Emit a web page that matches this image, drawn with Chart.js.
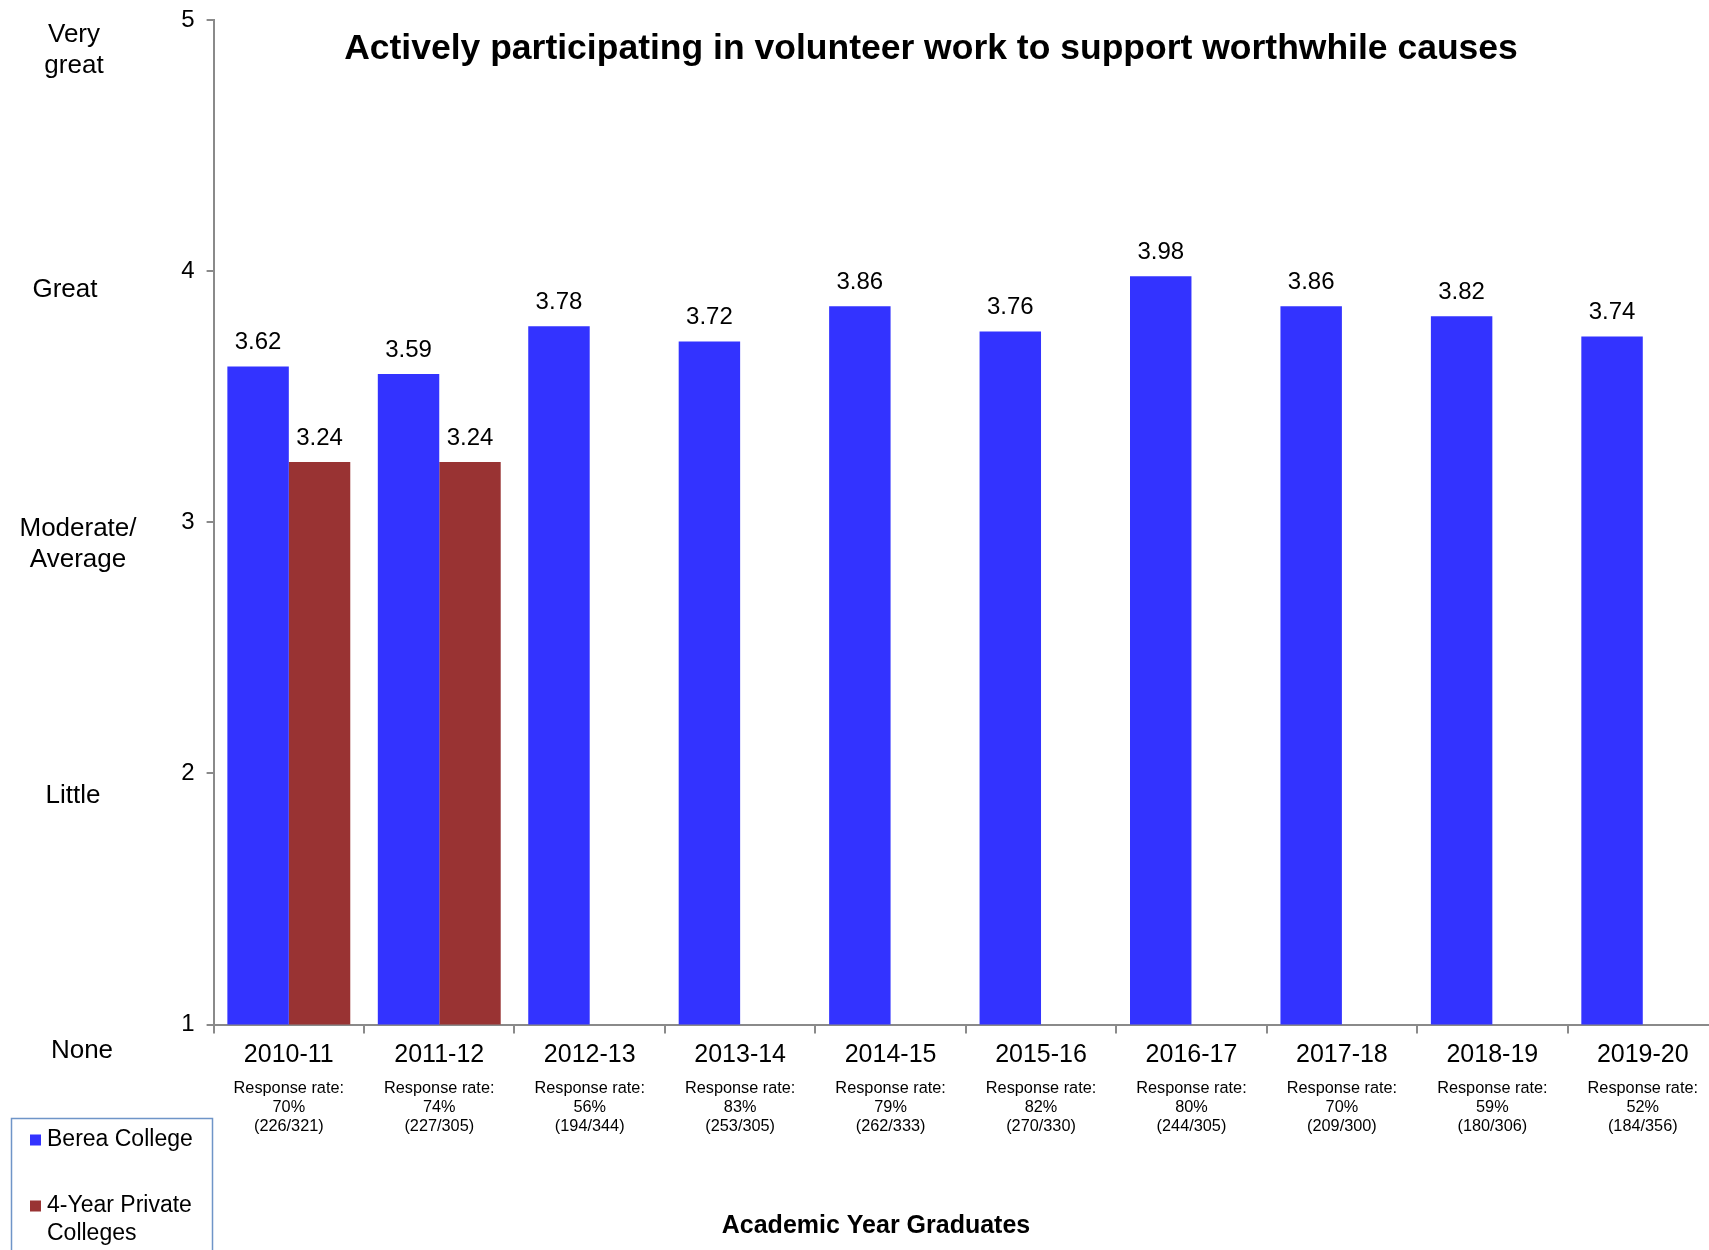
<!DOCTYPE html>
<html>
<head>
<meta charset="utf-8">
<script src="https://cdn.jsdelivr.net/npm/chart.js@4"></script>
<style>
html, body { margin: 0; padding: 0; background: #fff; overflow: hidden; }
#wrap { width: 1709px; height: 1250px; overflow: hidden; }
#myChart { display: block; }
</style>
</head>
<body>
<div id="wrap"><canvas id="myChart" width="1718" height="1250"></canvas></div>
<script>
var FONT = '"Liberation Sans", Arial, sans-serif';

var chartTitle = "Actively participating in volunteer work to support worthwhile causes";
var xTitle = "Academic Year Graduates";
var categories = ["2010-11", "2011-12", "2012-13", "2013-14", "2014-15", "2015-16", "2016-17", "2017-18", "2018-19", "2019-20"];
var bereaValues = [3.62, 3.59, 3.78, 3.72, 3.86, 3.76, 3.98, 3.86, 3.82, 3.74];
var privateValues = [3.24, 3.24, null, null, null, null, null, null, null, null];
var responseRates = ["70%", "74%", "56%", "83%", "79%", "82%", "80%", "70%", "59%", "52%"];
var responseCounts = ["(226/321)", "(227/305)", "(194/344)", "(253/305)", "(262/333)", "(270/330)", "(244/305)", "(209/300)", "(180/306)", "(184/356)"];
var yTicks = [1, 2, 3, 4, 5];
var levelValues = [5, 4, 3, 2, 1];
var levelNames = [["Very", "great"], ["Great"], ["Moderate/", "Average"], ["Little"], ["None"]];
var seriesNames = ["Berea College", ["4-Year Private", "Colleges"]];

// where the rating words sit next to their tick (style only)
var levelDy = [30, 19, 22, 22, 26];
var levelX = [74, 65, 78, 73, 82];

var BLUE = "#3333FF";
var RED = "#993333";
var AXIS = "#8a8a8a";

var extras = {
    id: "extras",
    afterDatasetsDraw: function(chart){
        var ctx = chart.ctx;
        var xs = chart.scales.x;
        var ys = chart.scales.y;
        ctx.save();
        ctx.fillStyle = "#000";
        ctx.textAlign = "center";
        ctx.textBaseline = "middle";

        // values over the bars
        ctx.font = "24px " + FONT;
        chart.data.datasets.forEach(function(ds, di){
            var meta = chart.getDatasetMeta(di);
            meta.data.forEach(function(bar, i){
                if(ds.data[i] == null) return;
                ctx.fillText(ds.data[i].toFixed(2), bar.x, bar.y - 24);
            });
        });

        // title
        ctx.font = "bold 35.5px " + FONT;
        ctx.fillText(chartTitle, 931, 49);

        // rating words on the left
        ctx.font = "26px " + FONT;
        levelValues.forEach(function(v, i){
            var lines = levelNames[i];
            var cy = ys.getPixelForValue(v) + levelDy[i];
            lines.forEach(function(t, k){
                ctx.fillText(t, levelX[i], cy + (k - (lines.length - 1) / 2) * 31);
            });
        });

        // response rates under each year
        ctx.font = "16.3px " + FONT;
        var base = ys.bottom;
        categories.forEach(function(c, i){
            var cx = xs.getPixelForValue(i);
            ctx.fillText("Response rate:", cx, base + 64);
            ctx.fillText(responseRates[i], cx, base + 83);
            ctx.fillText(responseCounts[i], cx, base + 102);
        });

        // axis title
        ctx.font = "bold 25px " + FONT;
        ctx.fillText(xTitle, 876, 1226);

        // legend box
        ctx.strokeStyle = "#6f95c8";
        ctx.lineWidth = 1.5;
        ctx.strokeRect(11.5, 1118.5, 201, 150);
        ctx.textAlign = "left";
        ctx.font = "23px " + FONT;
        var rows = [1140, 1206];
        chart.data.datasets.forEach(function(ds, di){
            ctx.fillStyle = ds.backgroundColor;
            ctx.fillRect(30, rows[di] - 5.5, 11, 11);
            ctx.fillStyle = "#000";
            var name = seriesNames[di];
            if(typeof name === "string") name = [name];
            name.forEach(function(t, k){
                ctx.fillText(t, 47, rows[di] + k * 28);
            });
        });
        ctx.restore();
    }
};

var myChart = new Chart(document.getElementById("myChart"), {
    type: "bar",
    data: {
        labels: categories,
        datasets: [{
            label: "Berea College",
            data: bereaValues,
            backgroundColor: BLUE,
            borderWidth: 0
        }, {
            label: "4-Year Private Colleges",
            data: privateValues,
            backgroundColor: RED,
            borderWidth: 0
        }]
    },
    options: {
        responsive: false,
        animation: false,
        layout: { padding: { top: 20, right: 0, bottom: 0, left: 0 } },
        categoryPercentage: 0.817,
        barPercentage: 1,
        plugins: {
            legend: { display: false },
            tooltip: { enabled: false },
            title: { display: false }
        },
        scales: {
            x: {
                grid: { display: true, drawOnChartArea: false, drawTicks: true, tickLength: 9, color: AXIS, lineWidth: 2 },
                border: { display: true, color: AXIS, width: 2 },
                ticks: { color: "#000", font: { family: FONT, size: 25 }, padding: 7, maxRotation: 0, autoSkip: false },
                afterFit: function(scale){
                    scale.height = 225.5;
                    scale.paddingLeft = 0;
                    scale.paddingRight = 0;
                }
            },
            y: {
                min: 1,
                max: 5,
                afterBuildTicks: function(scale){
                    scale.ticks = yTicks.map(function(v){ return { value: v }; });
                },
                grid: { display: true, drawOnChartArea: false, drawTicks: true, tickLength: 7, color: AXIS, lineWidth: 2 },
                border: { display: true, color: AXIS, width: 2 },
                ticks: { color: "#000", font: { family: FONT, size: 24 }, padding: 12 },
                afterFit: function(scale){
                    scale.width = 213.6;
                    scale.paddingTop = 0;
                    scale.paddingBottom = 0;
                }
            }
        }
    },
    plugins: [extras]
});
</script>
</body>
</html>
